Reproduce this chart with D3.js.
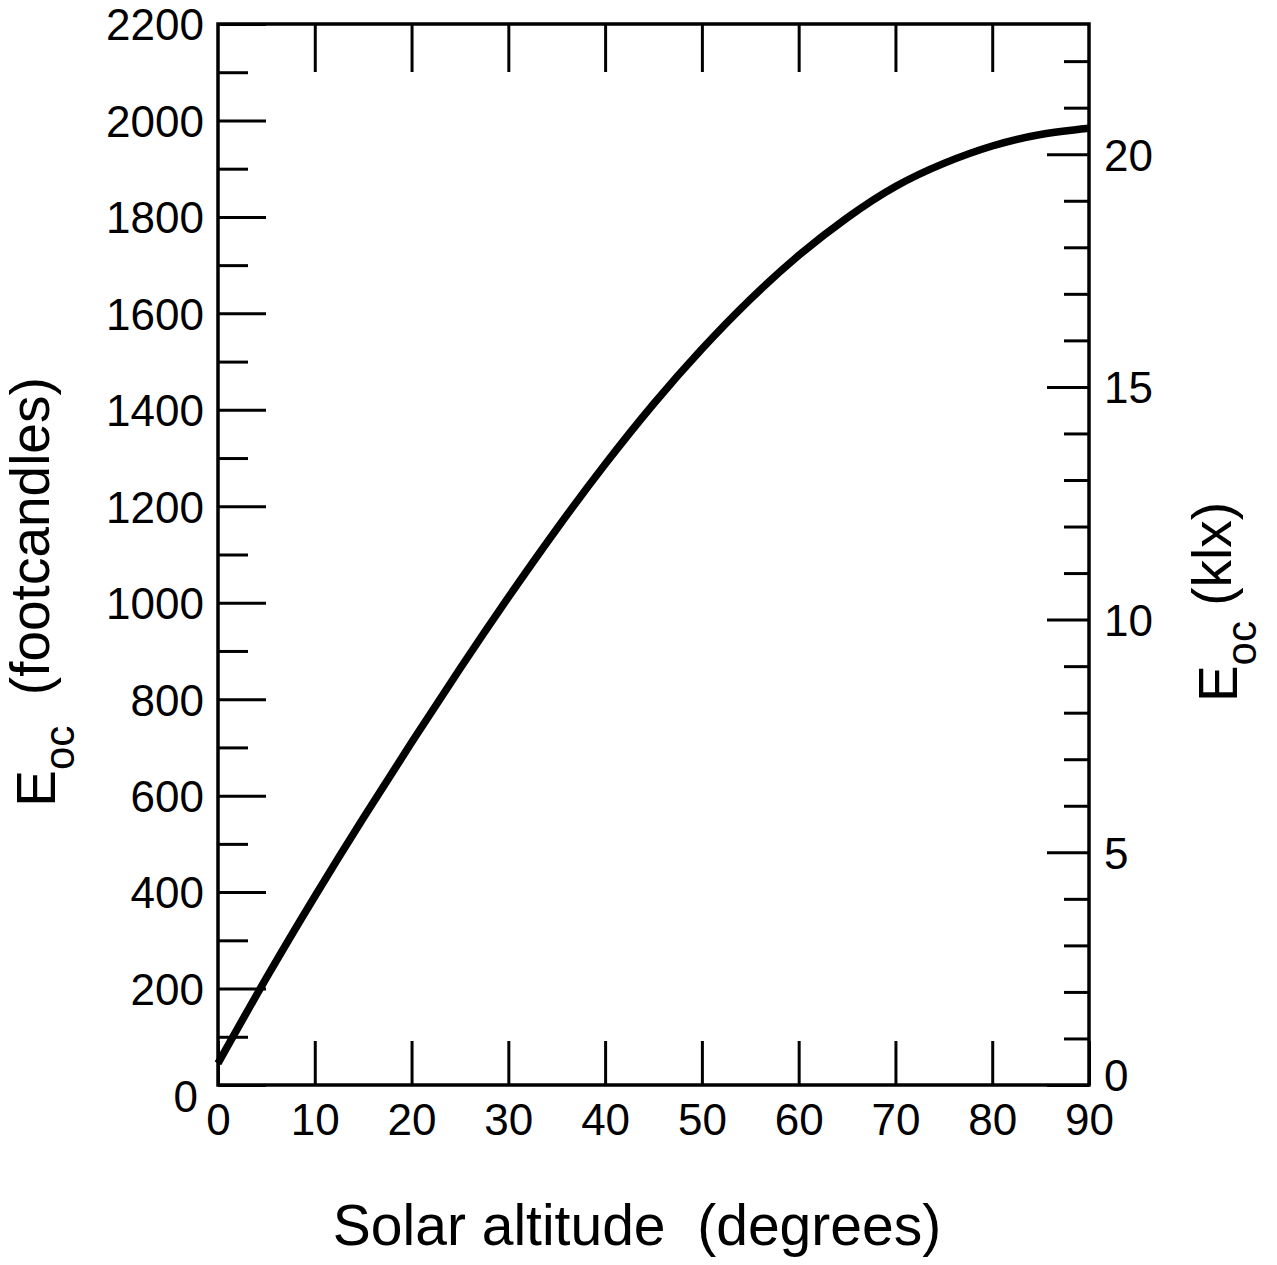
<!DOCTYPE html>
<html>
<head>
<meta charset="utf-8">
<script src="https://cdn.jsdelivr.net/npm/d3@7"></script>
<style>
  html, body { margin: 0; padding: 0; background: #fff; }
  svg { display: block; }
  text { font-family: "Liberation Sans", Arial, Helvetica, sans-serif; fill: #000; }
</style>
</head>
<body>
<svg id="chart" width="1277" height="1265"></svg>
<script>
// ---- data ----
const altitudeDeg = [0, 5, 10, 15, 20, 25, 30, 35, 40, 45, 50, 55, 60, 65, 70, 75, 80, 85, 90];
const illumFc     = [45, 222, 391, 553, 710, 863, 1011, 1153, 1287, 1412, 1526, 1629, 1720, 1798, 1863, 1911, 1947, 1971, 1984];

const xTicks        = [0, 10, 20, 30, 40, 50, 60, 70, 80, 90];
const yMajorTicks   = [0, 200, 400, 600, 800, 1000, 1200, 1400, 1600, 1800, 2000, 2200];
const yMinorTicks   = [100, 300, 500, 700, 900, 1100, 1300, 1500, 1700, 1900, 2100];
const klxMajorTicks = [0, 5, 10, 15, 20];
const klxMinorTicks = [1, 2, 3, 4, 6, 7, 8, 9, 11, 12, 13, 14, 16, 17, 18, 19, 21, 22];
const klxPerFc = 20 / 1930; // as drawn on the right-hand scale

// ---- layout ----
const L = 218, R = 1089, T = 24, B = 1085;
const svg = d3.select("#chart");

const x = d3.scaleLinear().domain([0, 90]).range([L, R]);
const y = d3.scaleLinear().domain([0, 2200]).range([B, T]);
const yk = d3.scaleLinear().domain([0, 2200 * klxPerFc]).range([B, T]);

const tickW = 3;
function styleAxis(g) {
  g.select(".domain").remove();
  g.selectAll(".tick line").attr("stroke", "#000").attr("stroke-width", tickW);
  g.selectAll(".tick text").style("font-size", "44px").attr("fill", "#000");
}

// left axis minor + major
svg.append("g").attr("transform", `translate(${L},0)`)
  .call(d3.axisLeft(y).tickValues(yMinorTicks).tickSize(-30).tickSizeOuter(0).tickFormat(""))
  .call(styleAxis);
const leftMaj = svg.append("g").attr("transform", `translate(${L},0)`)
  .call(d3.axisLeft(y).tickValues(yMajorTicks).tickSize(-48).tickSizeOuter(0).tickPadding(14).tickFormat(d3.format("d")))
  .call(styleAxis);
leftMaj.selectAll(".tick text").attr("dy", "0.36em");
leftMaj.selectAll(".tick").filter(d => d === 0).select("text")
  .attr("x", -20).attr("dy", "0.6em");

// bottom axis
svg.append("g").attr("transform", `translate(0,${B})`)
  .call(d3.axisBottom(x).tickValues(xTicks).tickSize(-44).tickSizeOuter(0).tickPadding(19).tickFormat(d3.format("d")))
  .call(styleAxis);

// top axis (ticks only)
svg.append("g").attr("transform", `translate(0,${T})`)
  .call(d3.axisTop(x).tickValues(xTicks.slice(1, -1)).tickSize(-48).tickSizeOuter(0).tickFormat(""))
  .call(styleAxis);

// right axis (klx)
svg.append("g").attr("transform", `translate(${R},0)`)
  .call(d3.axisRight(yk).tickValues(klxMinorTicks).tickSize(-25).tickSizeOuter(0).tickFormat(""))
  .call(styleAxis);
const rightMaj = svg.append("g").attr("transform", `translate(${R},0)`)
  .call(d3.axisRight(yk).tickValues(klxMajorTicks).tickSize(-42).tickSizeOuter(0).tickPadding(15).tickFormat(d3.format("d")))
  .call(styleAxis);
rightMaj.selectAll(".tick text").attr("dy", "0.36em");
rightMaj.selectAll(".tick").filter(d => d === 0).select("text").attr("dy", "0.12em");

// frame
svg.append("rect").attr("x", L).attr("y", T).attr("width", R - L).attr("height", B - T)
  .attr("fill", "none").attr("stroke", "#000").attr("stroke-width", 3.5);

// curve
const pts = altitudeDeg.map((d, i) => [d, illumFc[i]]);
svg.append("path").datum(pts)
  .attr("fill", "none").attr("stroke", "#000").attr("stroke-width", 7.5)
  .attr("stroke-linecap", "butt")
  .attr("d", d3.line().x(d => x(d[0])).y(d => y(d[1])).curve(d3.curveNatural));

// axis titles
svg.append("text").attr("x", 637).attr("y", 1245).attr("text-anchor", "middle")
  .style("font-size", "57px").attr("xml:space", "preserve")
  .text("Solar altitude  (degrees)");

const lt = svg.append("text").attr("transform", "translate(55,592) rotate(-90)")
  .attr("text-anchor", "middle").style("font-size", "55px").attr("xml:space", "preserve");
lt.append("tspan").text("E");
lt.append("tspan").attr("dy", "0.45em").style("font-size", "42px").text("oc");
lt.append("tspan").attr("dy", "-0.45em").style("font-size", "55px").text("  (footcandles)");

const rt = svg.append("text").attr("transform", "translate(1237,602) rotate(-90)")
  .attr("text-anchor", "middle").style("font-size", "55px").attr("xml:space", "preserve");
rt.append("tspan").text("E");
rt.append("tspan").attr("dy", "0.45em").style("font-size", "42px").text("oc");
rt.append("tspan").attr("dy", "-0.45em").style("font-size", "55px").text(" (klx)");
</script>
</body>
</html>
